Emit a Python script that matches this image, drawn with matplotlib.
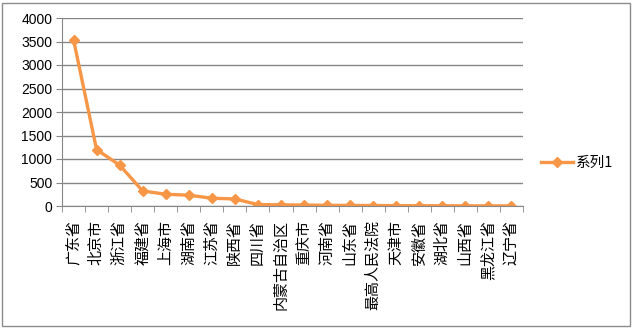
import matplotlib.pyplot as plt
from matplotlib.patches import Rectangle

plt.rcParams['font.family'] = ['Noto Sans CJK SC', 'DejaVu Sans']

categories = ["广东省", "北京市", "浙江省", "福建省", "上海市", "湖南省", "江苏省",
              "陕西省", "四川省", "内蒙古自治区", "重庆市", "河南省", "山东省",
              "最高人民法院", "天津市", "安徽省", "湖北省", "山西省", "黑龙江省", "辽宁省"]
values = [3540, 1200, 870, 320, 250, 230, 165, 150, 30, 25, 20, 15, 12, 10, 8, 6, 5, 4, 3, 2]
series_name = "系列1"

color = "#F79646"

fig = plt.figure(figsize=(6.33, 3.28), dpi=100)
ax = fig.add_axes([62 / 633, 1 - 206 / 328, 461 / 633, 188 / 328])

x = list(range(len(categories)))
ax.plot(x, values, color=color, lw=2.4, marker="D", ms=5.5, label=series_name)

ax.set_xlim(-0.5, len(categories) - 0.5)
ax.set_ylim(0, 4000)
ax.set_yticks(range(0, 4001, 500))
ax.yaxis.grid(True, color="#868686", lw=1)
ax.set_axisbelow(True)

ax.set_xticks(x)
ax.set_xticklabels(categories, fontsize=10.8, rotation=90, va="top", ha="center")
ax.set_xticks([i - 0.5 for i in range(len(categories) + 1)], minor=True)
ax.tick_params(axis="x", which="major", length=0, pad=10)
ax.tick_params(axis="x", which="minor", length=4, color="#868686")
ax.tick_params(axis="y", length=4, color="#868686", labelsize=10, pad=3)
for lab in ax.get_yticklabels():
    lab.set_family(["Liberation Sans", "DejaVu Sans"])

for s in ["top", "right"]:
    ax.spines[s].set_visible(False)
for s in ["left", "bottom"]:
    ax.spines[s].set_color("#868686")

ax.legend(loc="center left", bbox_to_anchor=(1.01, 0.23), frameon=False,
          fontsize=10.5, handlelength=2.2, handletextpad=0.2)

fig.patches.append(Rectangle((2 / 633, 2 / 328), 628 / 633, 323 / 328,
                             transform=fig.transFigure, fill=False,
                             edgecolor="#8c8c8c", lw=1))

fig.savefig("out.png", dpi=100)
